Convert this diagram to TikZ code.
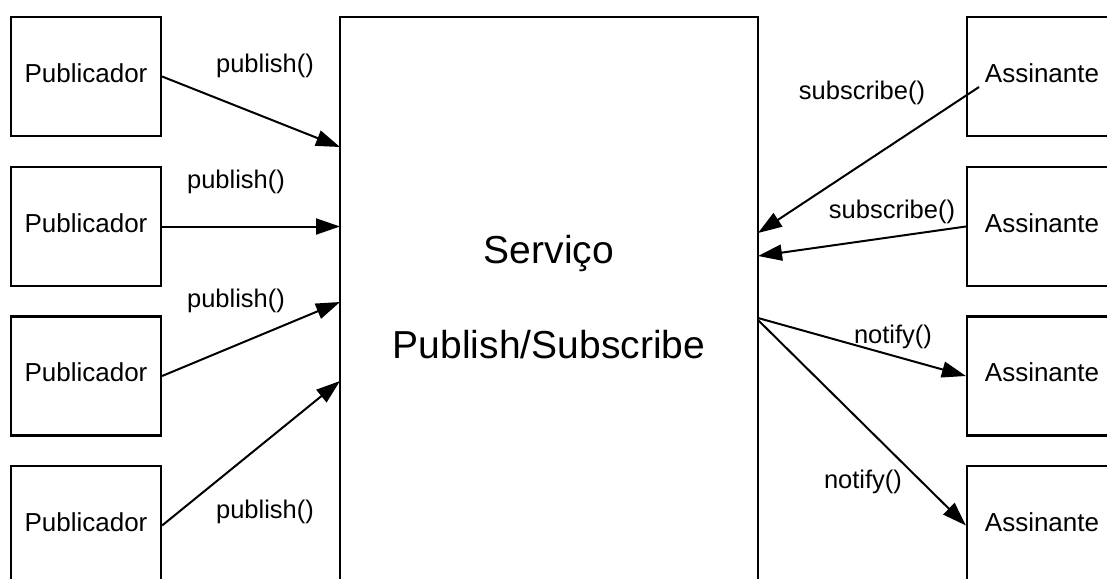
\documentclass[tikz,border=0pt]{standalone}
\usepackage{fontspec}
\setmainfont{Liberation Sans}
\usetikzlibrary{arrows.meta}
\begin{document}
\begin{tikzpicture}[x=1pt,y=-1pt,
  box/.style={draw,line width=2.2pt,rectangle,minimum width=150pt,minimum height=119pt,
    inner sep=0pt,text height=19pt,text depth=8pt,font=\fontsize{26}{30}\selectfont},
  svcbox/.style={draw,line width=2.2pt,rectangle,minimum width=418pt,minimum height=623pt,inner sep=0pt},
  lbl/.style={anchor=base,inner sep=0pt,font=\fontsize{25.5}{30}\selectfont},
  big/.style={anchor=base,inner sep=0pt,font=\fontsize{39}{44}\selectfont},
  flow/.style={line width=2pt,-{Triangle[length=24pt,width=16pt]}}]
\useasboundingbox (0,0) rectangle (1107,578);
\clip (0,0) rectangle (1107,578);
% service box
\node[svcbox] (svc) at (549,328.5) {};
\node[big] (t1) at (549,263) {Serviço};
\node[big] (t2) at (549,358) {Publish/Subscribe};
% publishers
\node[box] (pub1) at (86,76.5) {Publicador};
\node[box] (pub2) at (86,226.5) {Publicador};
\node[box] (pub3) at (86,376) {Publicador};
\node[box] (pub4) at (86,525.5) {Publicador};
% subscribers
\node[box] (sub1) at (1042,76.5) {Assinante};
\node[box] (sub2) at (1042,226.5) {Assinante};
\node[box] (sub3) at (1042,376) {Assinante};
\node[box] (sub4) at (1042,525.5) {Assinante};
% endpoints on the service box
\coordinate (e1) at (340,147);
\coordinate (e2) at (340,226.5);
\coordinate (e3) at (340,302);
\coordinate (e4) at (340,381);
\coordinate (s1start) at (979,87);
\coordinate (f1) at (758,233);
\coordinate (f2) at (758,256);
\coordinate (n0) at (758,318);
\coordinate (n0b) at (758,320);
% arrows
\draw[flow] (pub1.east) -- (e1);
\draw[flow] (pub2.east) -- (e2);
\draw[flow] (pub3.east) -- (e3);
\draw[flow] (pub4.east) -- (e4);
\draw[flow] (s1start) -- (f1);
\draw[flow] (sub2.west) -- (f2);
\draw[flow] (n0) -- (sub3.west);
\draw[flow] (n0b) -- (sub4.west);
% labels
\node[lbl] (l1) at (265,72) {publish()};
\node[lbl] (l2) at (236,188) {publish()};
\node[lbl] (l3) at (236,307) {publish()};
\node[lbl] (l4) at (265,518) {publish()};
\node[lbl] (l5) at (862,99) {subscribe()};
\node[lbl] (l6) at (892,218) {subscribe()};
\node[lbl] (l7) at (893,343) {notify()};
\node[lbl] (l8) at (863,488) {notify()};
\end{tikzpicture}
\end{document}
